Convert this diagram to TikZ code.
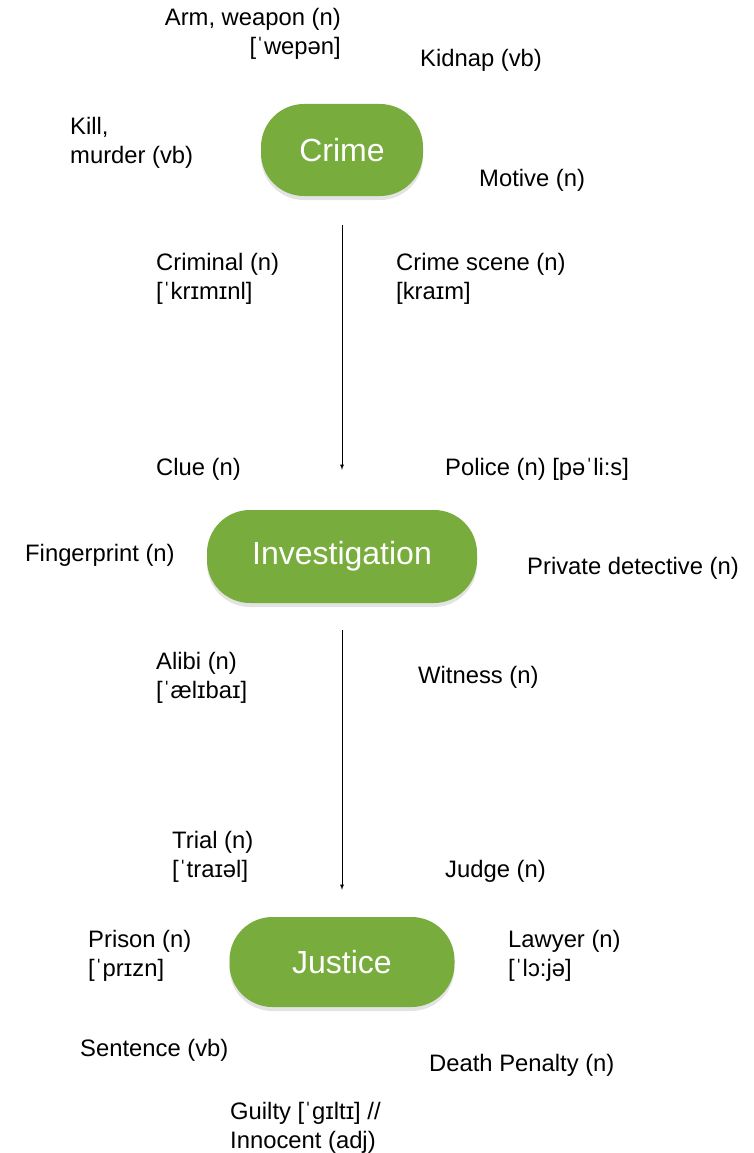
\documentclass[tikz,border=0pt]{standalone}
\usepackage{fontspec}
\setmainfont{Liberation Sans}
\usepackage{tikz}
\usetikzlibrary{shapes,arrows,shadows}
\definecolor{stepgreen}{RGB}{120,172,60}
\begin{document}
\begin{tikzpicture}[x=1pt,y=-1pt]
\tikzstyle{every node}=[font=\fontsize{23.8}{28.5}\selectfont, inner sep=0pt]
\tikzstyle{word}=[anchor=west, align=left, yshift=-2pt]
\tikzstyle{stage}=[rectangle, rounded corners=43pt, fill=stepgreen, text=white, font=\fontsize{32}{36}\selectfont, drop shadow={opacity=0.22, shadow xshift=0pt, shadow yshift=-4pt}]
\useasboundingbox (0,0) rectangle (754,1153);
% stages
\node [stage, minimum width=162pt, minimum height=92pt] (crime) at (342,150) {Crime};
\node [stage, minimum width=270pt, minimum height=93pt] (investigation) at (342,556.5) {Investigation};
\node [stage, minimum width=225pt, minimum height=90pt] (justice) at (342,962) {Justice};
\draw [-latex, line width=0.8pt, shorten <=29pt, shorten >=40pt] (crime) -- (investigation);
\draw [-latex, line width=0.8pt, shorten <=27pt, shorten >=27pt] (investigation) -- (justice);
% crime words
\node [anchor=east, align=right, yshift=-2pt] (weapon) at (341,32) {Arm, weapon (n)\\{[ˈwepən]}};
\node [word] (kidnap) at (420,58) {Kidnap (vb)};
\node [word] (kill) at (70,141) {Kill,\\murder (vb)};
\node [word] (motive) at (479,178) {Motive (n)};
\node [word] (criminal) at (156,277) {Criminal (n)\\{[ˈkrɪmɪnl]}};
\node [word] (scene) at (396,277) {Crime scene (n)\\{[kraɪm]}};
% investigation words
\node [word] (clue) at (156,467) {Clue (n)};
\node [word] (police) at (445,467) {Police (n) [pəˈli:s]};
\node [word] (fingerprint) at (25,553) {Fingerprint (n)};
\node [word] (detective) at (527,566) {Private detective (n)};
\node [word] (alibi) at (156,676) {Alibi (n)\\{[ˈælɪbaɪ]}};
\node [word] (witness) at (418,675) {Witness (n)};
% justice words
\node [word] (trial) at (172,855) {Trial (n)\\{[ˈtraɪəl]}};
\node [word] (judge) at (445,869) {Judge (n)};
\node [word] (prison) at (88,954) {Prison (n)\\{[ˈprɪzn]}};
\node [word] (lawyer) at (508,954) {Lawyer (n)\\{[ˈlɔ:jə]}};
\node [word] (sentence) at (80,1048) {Sentence (vb)};
\node [word] (penalty) at (429,1063) {Death Penalty (n)};
\node [word] (guilty) at (230,1126) {Guilty [ˈgɪltɪ] //\\Innocent (adj)};
\end{tikzpicture}
\end{document}
